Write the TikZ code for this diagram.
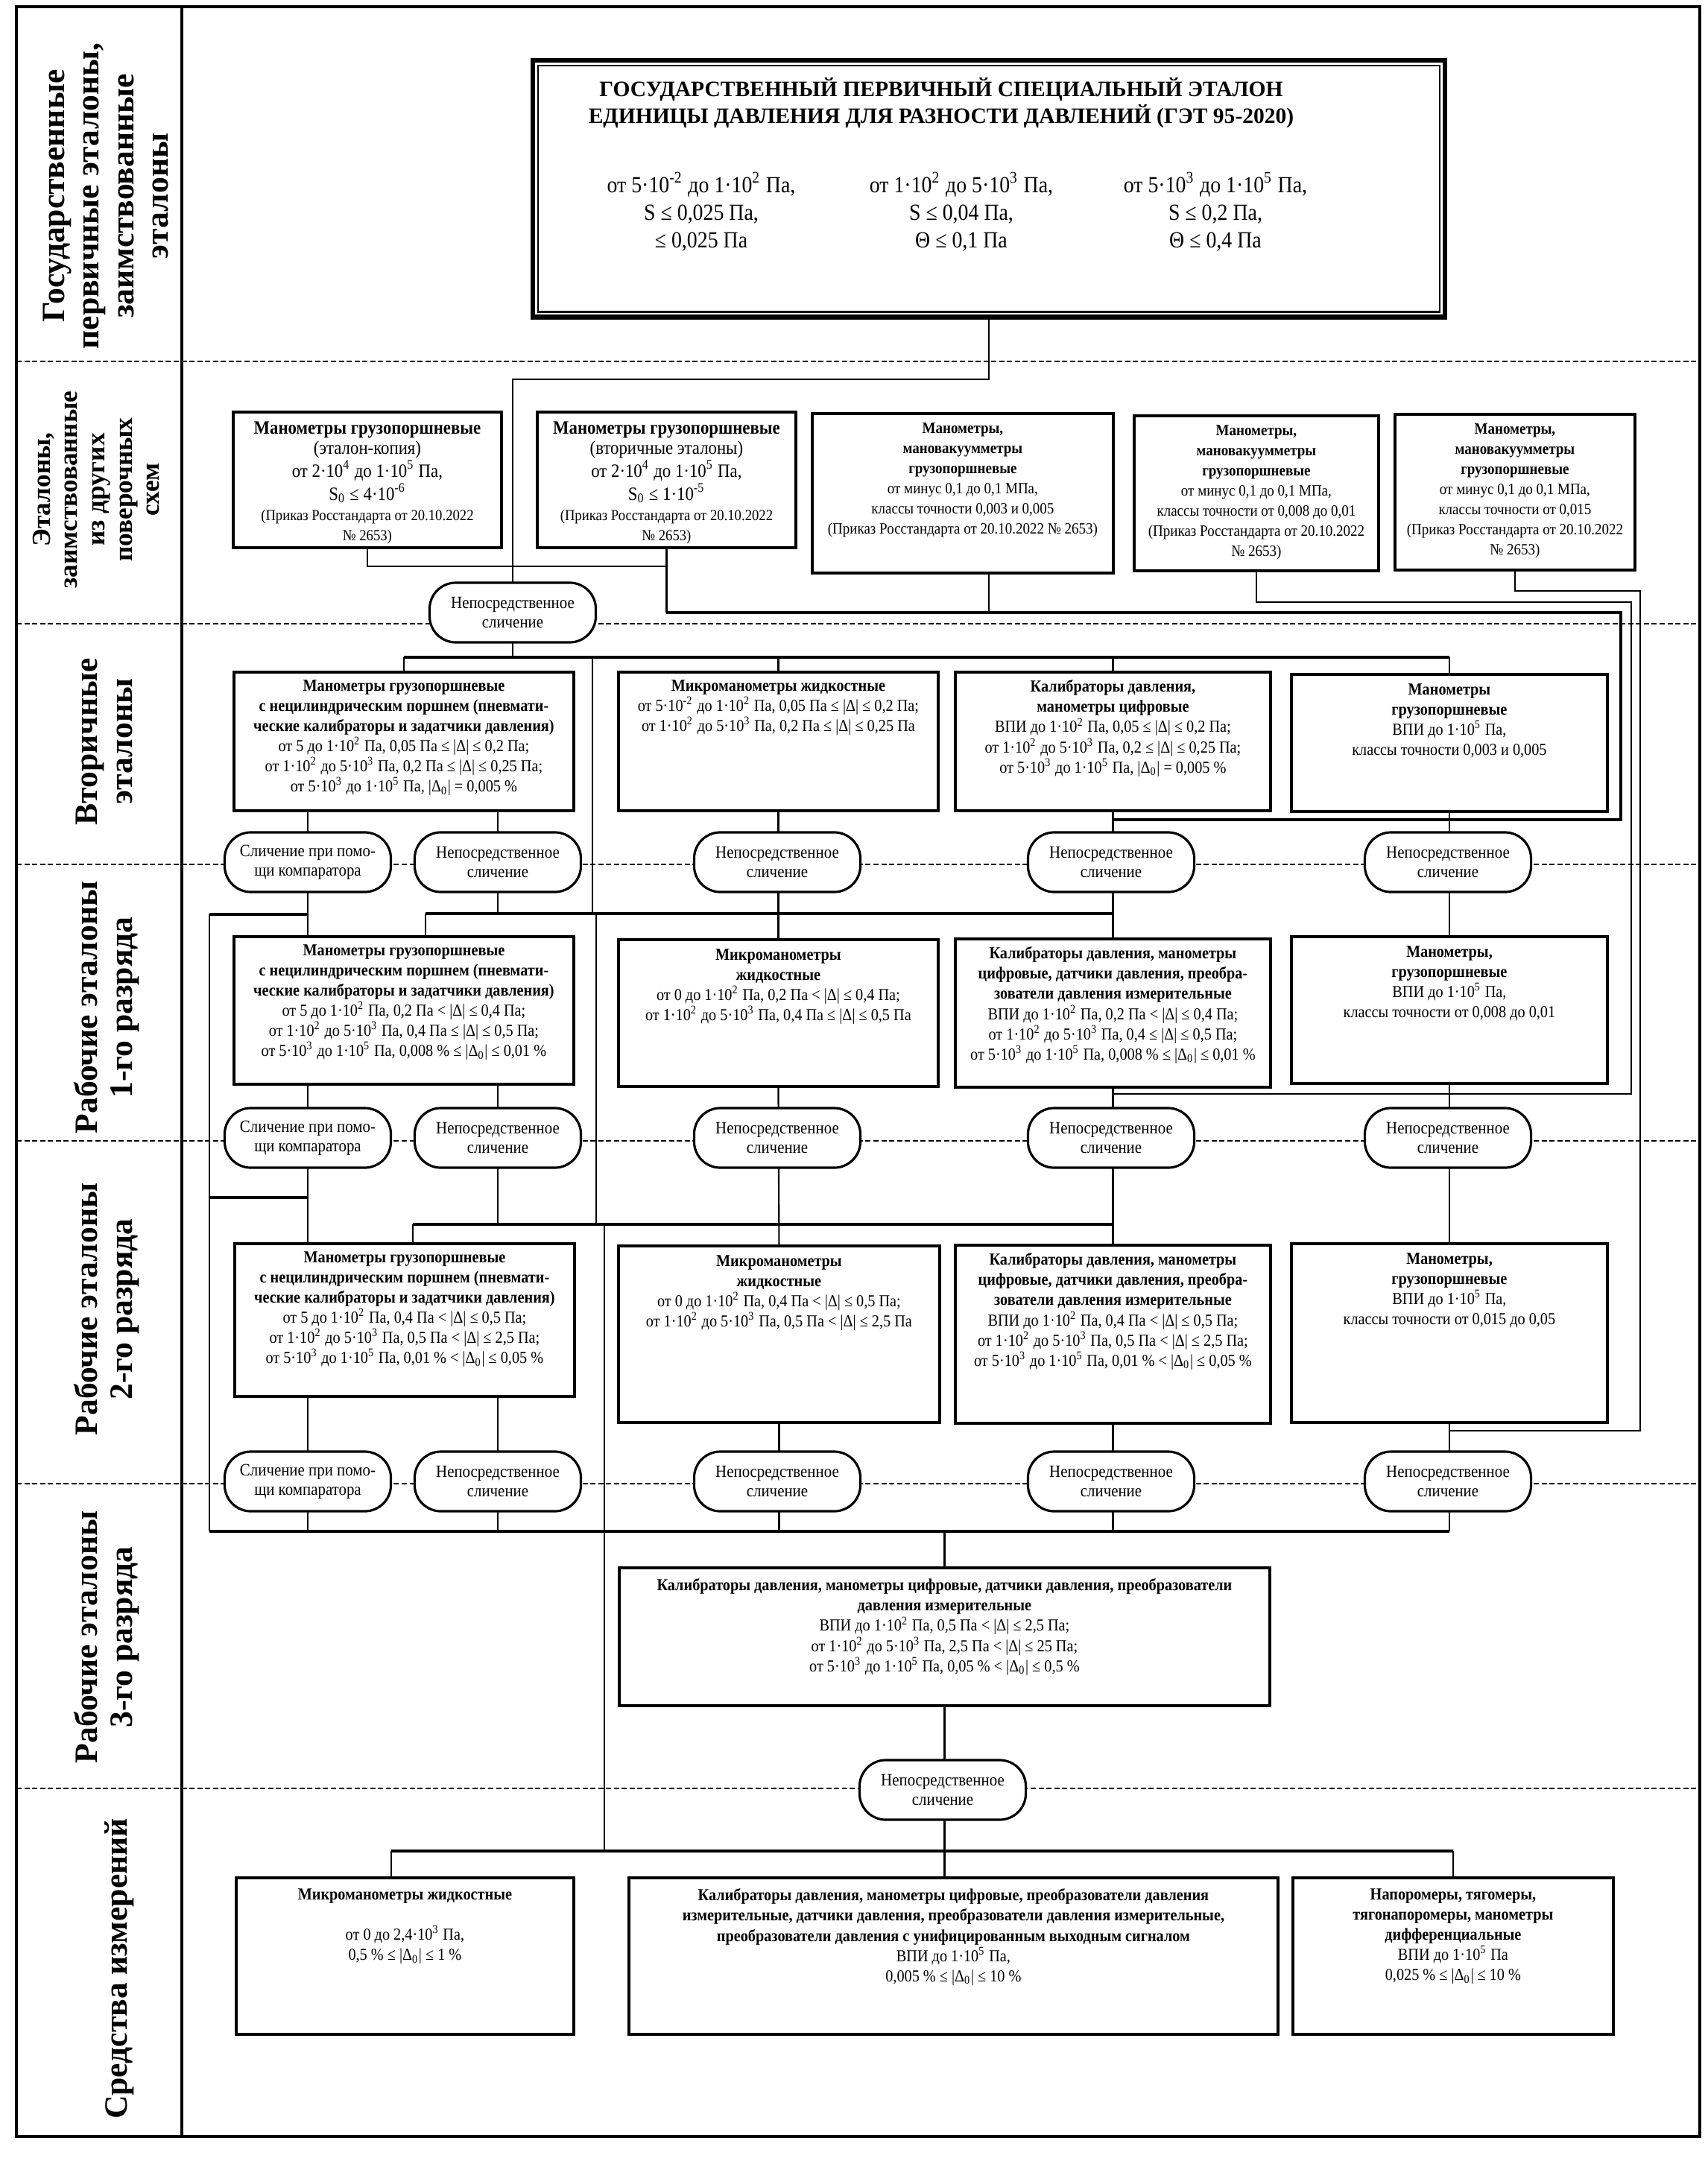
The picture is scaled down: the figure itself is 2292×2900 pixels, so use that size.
\documentclass[tikz,border=0pt]{standalone}
\usepackage{fontspec}
\setmainfont{Liberation Serif}
\newfontfamily\cnd[FakeStretch=0.9]{Liberation Serif}
\usetikzlibrary{calc}
\newcommand\myup[1]{\textsuperscript{#1}}
\newcommand\mydn[1]{\textsubscript{#1}}
\newcommand\tn[1]{10\myup{#1}}
\newcommand\fbx{\cnd\fontsize{6.4}{7.7}\selectfont}
\newcommand\fbs{\cnd\fontsize{6.0}{7.4}\selectfont}
\newcommand\fov{\cnd\fontsize{6.6}{7.4}\selectfont}
\newcommand\flab{\fontsize{12.4}{13.2}\selectfont\bfseries}
\newcommand\fsm{\fontsize{5.9}{6.6}\selectfont}
\newcommand\fmd{\fontsize{7.2}{8.3}\selectfont}
\newcommand\bx[7]{%
  \node[boxst, minimum width={(#4-#2)*0.01cm}, minimum height={(#5-#3)*0.01cm}, anchor=north west] (#1) at (#2,#3) {};
  \node[txt, anchor=north] (#1t) at ($(#1.north)+(0,#6)$) {#7};%
}
\begin{document}
\begin{tikzpicture}[x=0.01cm, y=-0.01cm,
  boxst/.style={draw, line width=1.1pt, fill=white, inner sep=0pt},
  txt/.style={align=center, inner sep=0pt, font=\fbx},
  ovst/.style={draw, fill=white, line width=0.9pt, rounded corners=10pt, minimum width=2.23cm, minimum height=0.8cm, inner sep=0pt, align=center, font=\fov},
  conn/.style={line width=0.6pt},
  bus/.style={line width=1.1pt},
  sepl/.style={line width=0.5pt, dash pattern=on 2pt off 1pt},
  lab/.style={rotate=90, align=center, font=\flab, inner sep=0pt},
]
\fill[white] (0,0) rectangle (2292,2900);
\useasboundingbox (0,0) rectangle (2292,2900);
% frame and rows
\foreach \yy in {485,837,1160,1531,1991,2400} \draw[sepl] (22,\yy) -- (2281,\yy);
\draw[line width=1.2pt] (22,9) rectangle (2281,2867);
\draw[line width=1.2pt] (244,9) -- (244,2867);
% labels
\node[lab] (L1) at (142,263) {Государственные\\первичные эталоны,\\заимствованные\\эталоны};
\node[lab, font=\fontsize{10}{10.4}\selectfont\bfseries] (L2) at (129,657) {Эталоны,\\заимствованные\\из других\\поверочных\\схем};
\node[lab] (L3) at (140,995) {Вторичные\\эталоны};
\node[lab] (L4) at (143,1352) {Рабочие эталоны\\1-го разряда};
\node[lab] (L5) at (143,1757) {Рабочие эталоны\\2-го разряда};
\node[lab] (L6) at (143,2197) {Рабочие эталоны\\3-го разряда};
\node[lab] (L7) at (160,2642) {Средства измерений};
% top box
\node[draw, line width=1.8pt, minimum width=12.23cm, minimum height=3.44cm, anchor=north west, inner sep=0pt] (top) at (712,78) {};
\draw[line width=0.6pt] ($(top.north west)+(10,10)$) rectangle ($(top.south east)+(-10,-10)$);
\node[anchor=north, align=center, inner sep=0pt, font=\fontsize{8.4}{10}\selectfont\bfseries] (title) at (1263,104) {ГОСУДАРСТВЕННЫЙ ПЕРВИЧНЫЙ СПЕЦИАЛЬНЫЙ ЭТАЛОН\\ЕДИНИЦЫ ДАВЛЕНИЯ ДЛЯ РАЗНОСТИ ДАВЛЕНИЙ (ГЭТ 95-2020)};
\node[anchor=north, align=center, inner sep=0pt, font=\cnd\fontsize{8.8}{10.5}\selectfont] (v1) at (941,230) {от 5·\tn{-2} до 1·\tn{2} Па,\\S ≤ 0,025 Па,\\≤ 0,025 Па};
\node[anchor=north, align=center, inner sep=0pt, font=\cnd\fontsize{8.8}{10.5}\selectfont] (v2) at (1290,230) {от 1·\tn{2} до 5·\tn{3} Па,\\S ≤ 0,04 Па,\\Θ ≤ 0,1 Па};
\node[anchor=north, align=center, inner sep=0pt, font=\cnd\fontsize{8.8}{10.5}\selectfont] (v3) at (1631,230) {от 5·\tn{3} до 1·\tn{5} Па,\\S ≤ 0,2 Па,\\Θ ≤ 0,4 Па};
% row 2
\bx{bA}{311}{551}{671}{733}{14}{\fmd\textbf{Манометры грузопоршневые}\\\fmd(эталон-копия)\\\fmd от 2·\tn{4} до 1·\tn{5} Па,\\\fmd S\mydn{0} ≤ 4·\tn{-6}\\\fsm (Приказ Росстандарта от 20.10.2022\\\fsm № 2653)}
\bx{bB}{719}{551}{1066}{733}{14}{\fmd\textbf{Манометры грузопоршневые}\\\fmd(вторичные эталоны)\\\fmd от 2·\tn{4} до 1·\tn{5} Па,\\\fmd S\mydn{0} ≤ 1·\tn{-5}\\\fsm (Приказ Росстандарта от  20.10.2022\\\fsm № 2653)}
\bx{bC}{1088}{553}{1492}{767}{14}{\fbs\textbf{Манометры,}\\\fbs\textbf{мановакуумметры}\\\fbs\textbf{грузопоршневые}\\\fbs от минус 0,1 до 0,1 МПа,\\\fbs классы точности 0,003 и 0,005\\\fbs (Приказ Росстандарта от 20.10.2022 № 2653)}
\bx{bD}{1520}{556}{1848}{764}{14}{\fbs\textbf{Манометры,}\\\fbs\textbf{мановакуумметры}\\\fbs\textbf{грузопоршневые}\\\fbs от минус 0,1 до 0,1 МПа,\\\fbs классы точности от 0,008 до 0,01\\\fbs (Приказ Росстандарта от 20.10.2022\\\fbs № 2653)}
\bx{bE}{1870}{554}{2192}{763}{14}{\fbs\textbf{Манометры,}\\\fbs\textbf{мановакуумметры}\\\fbs\textbf{грузопоршневые}\\\fbs от минус 0,1 до 0,1 МПа,\\\fbs классы точности от 0,015\\\fbs (Приказ Росстандарта от 20.10.2022\\\fbs № 2653)}
% row 3
\bx{rA3}{312}{900}{768}{1086}{12}{\textbf{Манометры грузопоршневые}\\\textbf{с нецилиндрическим поршнем (пневмати-}\\\textbf{ческие калибраторы и задатчики давления)}\\от 5 до 1·\tn{2} Па, 0,05 Па ≤ |Δ| ≤ 0,2 Па;\\от 1·\tn{2} до 5·\tn{3} Па, 0,2 Па ≤ |Δ| ≤ 0,25 Па;\\от 5·\tn{3} до 1·\tn{5} Па, |Δ\mydn{0}| = 0,005 \%}
\bx{rB3}{828}{900}{1257}{1086}{12}{\textbf{Микроманометры жидкостные}\\от 5·\tn{-2} до 1·\tn{2} Па, 0,05 Па ≤ |Δ| ≤ 0,2 Па;\\от 1·\tn{2} до 5·\tn{3} Па, 0,2 Па ≤ |Δ| ≤ 0,25 Па}
\bx{rC3}{1280}{900}{1703}{1086}{12}{\textbf{Калибраторы давления,}\\\textbf{манометры цифровые}\\ВПИ до 1·\tn{2} Па, 0,05 ≤ |Δ| ≤ 0,2 Па;\\от 1·\tn{2} до 5·\tn{3} Па, 0,2 ≤ |Δ| ≤ 0,25 Па;\\от 5·\tn{3} до 1·\tn{5} Па, |Δ\mydn{0}| = 0,005 \%}
\bx{rD3}{1731}{903}{2155}{1087}{14}{\textbf{Манометры}\\\textbf{грузопоршневые}\\ВПИ до 1·\tn{5} Па,\\классы точности 0,003 и 0,005}
% row 4
\bx{rA4}{312}{1255}{768}{1453}{12}{\textbf{Манометры грузопоршневые}\\\textbf{с нецилиндрическим поршнем (пневмати-}\\\textbf{ческие калибраторы и задатчики давления)}\\от 5 до 1·\tn{2} Па, 0,2 Па < |Δ| ≤ 0,4 Па;\\от 1·\tn{2} до 5·\tn{3} Па, 0,4 Па ≤ |Δ| ≤ 0,5 Па;\\от 5·\tn{3} до 1·\tn{5} Па, 0,008 \% ≤ |Δ\mydn{0}| ≤ 0,01 \%}
\bx{rB4}{828}{1259}{1257}{1456}{14}{\textbf{Микроманометры}\\\textbf{жидкостные}\\от 0 до 1·\tn{2} Па, 0,2 Па < |Δ| ≤ 0,4 Па;\\от 1·\tn{2} до 5·\tn{3} Па, 0,4 Па ≤ |Δ| ≤ 0,5 Па}
\bx{rC4}{1280}{1258}{1703}{1457}{12}{\textbf{Калибраторы давления, манометры}\\\textbf{цифровые, датчики давления, преобра-}\\\textbf{зователи давления измерительные}\\ВПИ до 1·\tn{2} Па, 0,2 Па < |Δ| ≤ 0,4 Па;\\от 1·\tn{2} до 5·\tn{3} Па, 0,4 ≤ |Δ| ≤ 0,5 Па;\\от 5·\tn{3} до 1·\tn{5} Па, 0,008 \% ≤ |Δ\mydn{0}| ≤ 0,01 \%}
\bx{rD4}{1731}{1255}{2155}{1452}{14}{\textbf{Манометры,}\\\textbf{грузопоршневые}\\ВПИ до 1·\tn{5} Па,\\классы точности от 0,008 до 0,01}
% row 5
\bx{rA5}{313}{1667}{769}{1872}{12}{\textbf{Манометры грузопоршневые}\\\textbf{с нецилиндрическим поршнем (пневмати-}\\\textbf{ческие калибраторы и задатчики давления)}\\от 5 до 1·\tn{2} Па, 0,4 Па < |Δ| ≤ 0,5 Па;\\от 1·\tn{2} до 5·\tn{3} Па, 0,5 Па < |Δ| ≤ 2,5 Па;\\от 5·\tn{3} до 1·\tn{5} Па, 0,01 \% < |Δ\mydn{0}| ≤ 0,05 \%}
\bx{rB5}{828}{1670}{1259}{1907}{14}{\textbf{Микроманометры}\\\textbf{жидкостные}\\от 0 до 1·\tn{2} Па, 0,4 Па < |Δ| ≤ 0,5 Па;\\от 1·\tn{2} до 5·\tn{3} Па, 0,5 Па < |Δ| ≤ 2,5 Па}
\bx{rC5}{1280}{1669}{1703}{1908}{12}{\textbf{Калибраторы давления, манометры}\\\textbf{цифровые, датчики давления, преобра-}\\\textbf{зователи давления измерительные}\\ВПИ до 1·\tn{2} Па, 0,4 Па < |Δ| ≤ 0,5 Па;\\от 1·\tn{2} до 5·\tn{3} Па, 0,5 Па < |Δ| ≤ 2,5 Па;\\от 5·\tn{3} до 1·\tn{5} Па, 0,01 \% < |Δ\mydn{0}| ≤  0,05 \%}
\bx{rD5}{1731}{1667}{2155}{1907}{14}{\textbf{Манометры,}\\\textbf{грузопоршневые}\\ВПИ до 1·\tn{5} Па,\\классы точности от 0,015 до 0,05}
% row 6
\bx{r6}{829}{2102}{1702}{2287}{16}{\textbf{Калибраторы давления, манометры цифровые, датчики давления, преобразователи}\\\textbf{давления измерительные}\\ВПИ до 1·\tn{2} Па, 0,5 Па < |Δ| ≤ 2,5 Па;\\от 1·\tn{2} до 5·\tn{3} Па, 2,5 Па < |Δ| ≤ 25 Па;\\от 5·\tn{3} до 1·\tn{5} Па, 0,05 \% < |Δ\mydn{0}| ≤ 0,5 \%}
% row 7
\bx{rA7}{315}{2518}{768}{2728}{16}{\textbf{Микроманометры жидкостные}\\[7.7pt]от 0 до 2,4·\tn{3} Па,\\0,5 \% ≤ |Δ\mydn{0}| ≤ 1 \%}
\bx{rB7}{842}{2518}{1713}{2728}{16}{\textbf{Калибраторы давления, манометры цифровые, преобразователи давления}\\\textbf{измерительные, датчики давления, преобразователи давления измерительные,}\\\textbf{преобразователи давления с унифицированным выходным сигналом}\\ВПИ до 1·\tn{5} Па,\\0,005 \% ≤ |Δ\mydn{0}| ≤ 10 \%}
\bx{rC7}{1733}{2518}{2163}{2728}{16}{\textbf{Напоромеры, тягомеры,}\\\textbf{тягонапоромеры, манометры}\\\textbf{дифференциальные}\\ВПИ до 1·\tn{5} Па\\0,025 \% ≤ |Δ\mydn{0}| ≤ 10 \%}
% connectors row 1 -> row 2
\coordinate (j1) at (688,509);
\draw[conn] (top.south) |- (j1) -- (688,782);
\draw[conn] (bA.south) |- (bB.south |- 0,760);
\draw[conn] (bB.south) -- (bB.south |- 0,822);
\draw[bus] (bB.south |- 0,822) -- (2175,822) -- (2175,1100) -- (rC3.south |- 0,1100);
\draw[conn] (bC.south -| top.south) -- (top.south |- 0,822);
\draw[conn] (bD.south) |- (2189,808) -- (2189,1468) -- (rC4.south |- 0,1468);
\draw[conn] (bE.south) |- (2201,793) -- (2201,1920) -- (rD5.south |- 0,1920);
% row 2 -> row 3
\draw[conn] (688,862) -- (688,882);
\draw[bus] (rA3.north |- 0,882) -- (rD3.north |- 0,882);
\foreach \n in {rA3,rB3,rC3,rD3} \draw[conn] (\n.north) -- (\n.north |- 0,882);
\draw[conn] (795,882) -- (795,1226);
% row 3 -> ovals -> row 4
\draw[conn] (413,1086) -- (413,1255);
\draw[conn] (668,1086) -- (668,1226);
\draw[conn] (rB3.south) -- (rB4.north);
\draw[conn] (rC3.south) -- (rC4.north);
\draw[conn] (rD3.south) -- (rD4.north);
\draw[bus] (413,1227) -- (281,1227);
\draw[conn] (281,1227) -- (281,2055);
\draw[bus] (571,1226) -- (rC4.north |- 0,1226);
\draw[conn] (571,1226) -- (571,1226 |- rA4.north);
\draw[conn] (800,1226) -- (800,1643);
% row 4 -> ovals -> row 5
\draw[conn] (413,1453) -- (413,1667);
\draw[conn] (668,1453) -- (668,1643);
\draw[conn] (rB4.south) -- (rB5.north);
\draw[conn] (rC4.south) -- (rC5.north);
\draw[conn] (rD4.south) -- (rD5.north);
\draw[bus] (413,1607) -- (281,1607);
\draw[bus] (554,1643) -- (rC5.north |- 0,1643);
\draw[conn] (554,1643) -- (554,1643 |- rA5.north);
\draw[conn] (811,1643) -- (811,2484);
% row 5 -> ovals -> bus 6
\draw[conn] (413,1872) -- (413,2055);
\draw[conn] (668,1872) -- (668,2055);
\draw[conn] (rB5.south) -- (rB5.south |- 0,2055);
\draw[conn] (rC5.south) -- (rC5.south |- 0,2055);
\draw[conn] (rD5.south) -- (rD5.south |- 0,2055);
\draw[bus] (281,2055) -- (rD5.south |- 0,2055);
\draw[conn] (r6.north) -- (r6.north |- 0,2055);
% row 6 -> row 7
\draw[conn] (r6.south) -- (r6.south |- 0,2484);
\draw[bus] (525,2484) -- (rC7.north |- 0,2484);
\draw[conn] (525,2484) -- (525,2484 |- rA7.north);
\draw[conn] (r6.south |- 0,2484) -- (r6.south |- rB7.north);
\draw[conn] (rC7.north) -- (rC7.north |- 0,2484);
% ovals
\node[ovst] (o0) at (688,822) {Непосредственное\\сличение};
\node[ovst] (o3a) at (413,1157) {Сличение при помо-\\щи компаратора};
\node[ovst] (o3b) at (668,1157) {Непосредственное\\сличение};
\node[ovst] (o3c) at (1043,1157) {Непосредственное\\сличение};
\node[ovst] (o3d) at (1491,1157) {Непосредственное\\сличение};
\node[ovst] (o3e) at (1943,1157) {Непосредственное\\сличение};
\node[ovst] (o4a) at (413,1527) {Сличение при помо-\\щи компаратора};
\node[ovst] (o4b) at (668,1527) {Непосредственное\\сличение};
\node[ovst] (o4c) at (1043,1527) {Непосредственное\\сличение};
\node[ovst] (o4d) at (1491,1527) {Непосредственное\\сличение};
\node[ovst] (o4e) at (1943,1527) {Непосредственное\\сличение};
\node[ovst] (o5a) at (413,1988) {Сличение при помо-\\щи компаратора};
\node[ovst] (o5b) at (668,1988) {Непосредственное\\сличение};
\node[ovst] (o5c) at (1043,1988) {Непосредственное\\сличение};
\node[ovst] (o5d) at (1491,1988) {Непосредственное\\сличение};
\node[ovst] (o5e) at (1943,1988) {Непосредственное\\сличение};
\node[ovst] (o6) at (1265,2402) {Непосредственное\\сличение};
\end{tikzpicture}
\end{document}
